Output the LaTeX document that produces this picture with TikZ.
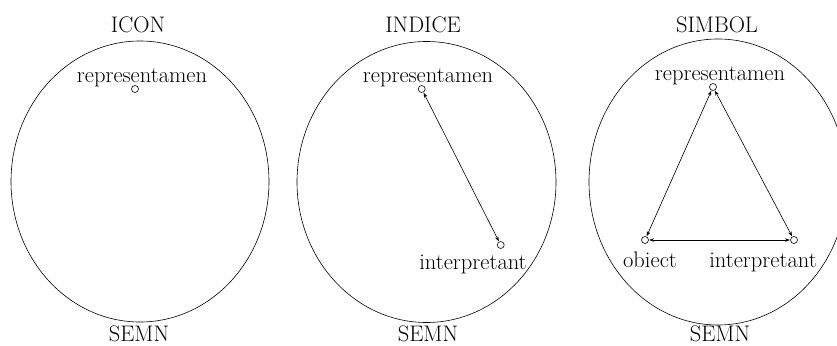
\documentclass[tikz,border=0pt]{standalone}
\usetikzlibrary{arrows.meta}
\begin{document}
\begin{tikzpicture}[x=1pt,y=-1pt,
  lbl/.style={anchor=base,inner sep=0pt,font=\fontsize{22.5}{26}\selectfont},
  pt/.style={circle,draw,line width=0.6pt,minimum size=7pt,inner sep=0pt},
  oval/.style={draw,line width=0.6pt},
  link/.style={line width=0.6pt,{Stealth[length=5pt,width=3.5pt]}-{Stealth[length=5pt,width=3.5pt]},shorten <=0.3pt,shorten >=0.3pt}]
\useasboundingbox (0,0) rectangle (837,345);
% ICON
\draw[oval] (140,181.5) ellipse [x radius=129, y radius=140.5];
\node[lbl] (t1) at (138,33) {ICON};
\node[lbl] (r1) at (142,82) {representamen};
\node[pt] (p1) at (135,89) {};
\node[lbl] (s1) at (139,341) {SEMN};
% INDICE
\draw[oval] (426.5,182) ellipse [x radius=129.5, y radius=140.5];
\node[lbl] (t2) at (423,33) {INDICE};
\node[lbl] (r2) at (428,82) {representamen};
\node[pt] (p2r) at (421.7,89) {};
\node[pt] (p2i) at (500.7,245) {};
\node[lbl] (i2) at (473,269) {interpretant};
\node[lbl] (s2) at (428,341) {SEMN};
\draw[link] (p2r) -- (p2i);
% SIMBOL
\draw[oval] (718,182) ellipse [x radius=129, y radius=143];
\node[lbl] (t3) at (717,33) {SIMBOL};
\node[lbl] (r3) at (720,80) {representamen};
\node[pt] (p3r) at (713,87) {};
\node[pt] (p3o) at (645,240) {};
\node[pt] (p3i) at (794,240) {};
\node[lbl] (o3) at (650,267) {obiect};
\node[lbl] (i3) at (763,267) {interpretant};
\node[lbl] (s3) at (720,341) {SEMN};
\draw[link] (p3r) -- (p3o);
\draw[link] (p3r) -- (p3i);
\draw[link] (p3o) -- (p3i);
\end{tikzpicture}
\end{document}
